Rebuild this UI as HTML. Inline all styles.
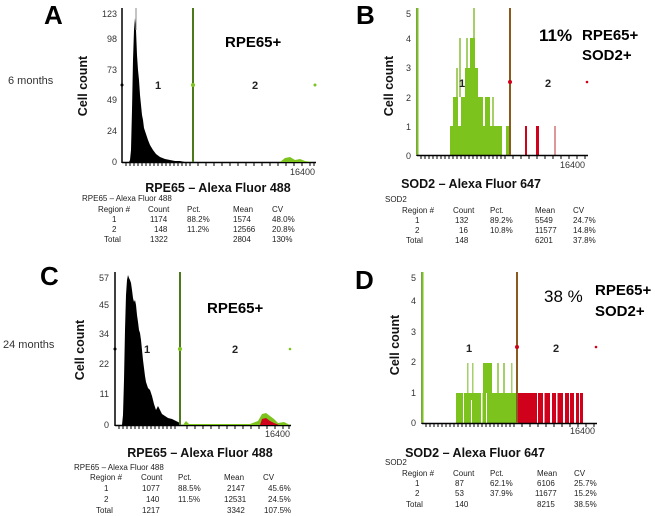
<!DOCTYPE html>
<html><head><meta charset="utf-8"><style>
html,body{margin:0;padding:0;background:#fff;}
svg{display:block;font-family:"Liberation Sans",Arial,sans-serif;}
.t{font-size:8px;fill:#222;}
.tk{font-size:9px;fill:#333;}
.ax{font-size:12.5px;font-weight:bold;fill:#111;}
.big{font-size:26px;font-weight:bold;fill:#000;}
.lab{font-size:15px;font-weight:bold;fill:#000;}
.rn{font-size:11px;font-weight:bold;fill:#222;}
</style></head><body>
<svg width="655" height="516" viewBox="0 0 655 516">
<rect width="655" height="516" fill="#fff"/>

<!-- ===== Panel A ===== -->
<text class="big" x="44" y="24">A</text>
<text x="8" y="84" font-size="11" fill="#333">6 months</text>
<text class="ax" transform="translate(87,86) rotate(-90)" text-anchor="middle">Cell count</text>
<g class="tk" text-anchor="end">
<text x="117" y="17">123</text><text x="117" y="42">98</text><text x="117" y="73">73</text>
<text x="117" y="103">49</text><text x="117" y="134">24</text><text x="117" y="165">0</text>
</g>
<polygon fill="#000" points="129,162 130,160 131,150 132,110 133,60 134,30 135,18 136,30 137,55 138,70 139,80 140,95 141,105 142,115 143,120 144,128 146,134 148,140 150,145 153,150 156,154 160,157 165,159 170,160 175,161 180,161 185,162"/>
<line x1="136" y1="8" x2="136" y2="30" stroke="#888" stroke-width="1"/>
<line x1="122" y1="8" x2="122" y2="163" stroke="#000" stroke-width="1.5"/>
<line x1="122" y1="162.5" x2="316" y2="162.5" stroke="#000" stroke-width="1.5"/>
<g stroke="#000" stroke-width="1"><path d="M126 163v3M130 163v3M134 163v3M138 163v3M142 163v3M146 163v3M150 163v3M154 163v3M158 163v3M162 163v3M166 163v3M170 163v3M174 163v3M178 163v3M182 163v3M186 163v3M190 163v3M198 163v3M206 163v3M214 163v3M222 163v3M230 163v3M238 163v3M246 163v3M254 163v3M262 163v3M270 163v3M278 163v3M286 163v3M294 163v3M302 163v3M310 163v3M314 163v3"/></g>
<polygon fill="#7dc31e" points="280,162 285,158 290,157 295,160 300,159 305,161 312,162"/>
<line x1="193" y1="8" x2="193" y2="162" stroke="#4a7a1c" stroke-width="2"/>
<circle cx="193" cy="85" r="2" fill="#7dc31e"/><circle cx="315" cy="85" r="1.5" fill="#7dc31e"/><circle cx="122" cy="85" r="1.5" fill="#000"/>
<text class="rn" x="155" y="89">1</text><text class="rn" x="252" y="89">2</text>
<text class="tk" x="290" y="175">16400</text>
<text class="lab" x="225" y="47">RPE65+</text>
<text class="ax" x="218" y="192" text-anchor="middle">RPE65 – Alexa Fluor 488</text>
<g class="t">
<text x="82" y="201">RPE65 – Alexa Fluor 488</text>
<text x="98" y="212">Region #</text><text x="148" y="212">Count</text><text x="187" y="212">Pct.</text><text x="233" y="212">Mean</text><text x="272" y="212">CV</text>
<text x="112" y="222">1</text><text x="150" y="222">1174</text><text x="187" y="222">88.2%</text><text x="233" y="222">1574</text><text x="272" y="222">48.0%</text>
<text x="112" y="232">2</text><text x="154" y="232">148</text><text x="187" y="232">11.2%</text><text x="233" y="232">12566</text><text x="272" y="232">20.8%</text>
<text x="104" y="242">Total</text><text x="150" y="242">1322</text><text x="233" y="242">2804</text><text x="272" y="242">130%</text>
</g>

<!-- ===== Panel B ===== -->
<text class="big" x="356" y="24">B</text>
<text class="ax" transform="translate(393,86) rotate(-90)" text-anchor="middle">Cell count</text>
<g class="tk" text-anchor="end">
<text x="411" y="17">5</text><text x="411" y="42">4</text><text x="411" y="71">3</text>
<text x="411" y="101">2</text><text x="411" y="130">1</text><text x="411" y="159">0</text>
</g>
<g fill="#7dc31e">
<rect x="450" y="126" width="52" height="29"/>
<rect x="453" y="97" width="5" height="29"/>
<rect x="456" y="68" width="2" height="29" fill="#a6cf6a"/>
<rect x="459" y="38" width="2" height="59" fill="#a6cf6a"/>
<rect x="461" y="97" width="4" height="29"/>
<rect x="465" y="68" width="5" height="58"/>
<rect x="466" y="38" width="2" height="30" fill="#a6cf6a"/>
<rect x="470" y="38" width="5" height="88"/>
<rect x="473" y="8" width="2" height="30" fill="#a6cf6a"/>
<rect x="475" y="68" width="3" height="58"/>
<rect x="478" y="97" width="5" height="29"/>
<rect x="485" y="97" width="5" height="29"/>
<rect x="492" y="97" width="2" height="29" fill="#a6cf6a"/>
<rect x="506" y="126" width="4" height="29"/>
</g>
<g fill="#d0021b">
<rect x="525" y="126" width="2" height="29"/><rect x="536" y="126" width="3" height="29"/><rect x="554" y="126" width="2" height="29" fill="#d99"/>
</g>
<line x1="417" y1="8" x2="417" y2="156" stroke="#000" stroke-width="1.5"/>
<line x1="417.5" y1="8" x2="417.5" y2="155" stroke="#7dc31e" stroke-width="2"/>
<line x1="417" y1="155.5" x2="588" y2="155.5" stroke="#000" stroke-width="1.5"/>
<g stroke="#000" stroke-width="1"><path d="M421 156v3M425 156v3M429 156v3M433 156v3M437 156v3M441 156v3M445 156v3M449 156v3M453 156v3M457 156v3M461 156v3M465 156v3M469 156v3M473 156v3M477 156v3M481 156v3M485 156v3M489 156v3M493 156v3M497 156v3M501 156v3M505 156v3M513 156v3M521 156v3M529 156v3M537 156v3M545 156v3M553 156v3M561 156v3M569 156v3M577 156v3M585 156v3"/></g>
<line x1="510" y1="8" x2="510" y2="155" stroke="#8b5a1e" stroke-width="2"/>
<circle cx="510" cy="82" r="2" fill="#d0021b"/><circle cx="587" cy="82" r="1.3" fill="#d0021b"/>
<text class="rn" x="459" y="87">1</text><text class="rn" x="545" y="87">2</text>
<text class="tk" x="560" y="168">16400</text>
<text x="539" y="41" font-size="17" font-weight="bold" fill="#000">11%</text>
<text class="lab" x="582" y="40">RPE65+</text>
<text class="lab" x="582" y="60">SOD2+</text>
<text class="ax" x="471" y="188" text-anchor="middle">SOD2 – Alexa Fluor 647</text>
<g class="t">
<text x="385" y="202">SOD2</text>
<text x="402" y="213">Region #</text><text x="453" y="213">Count</text><text x="490" y="213">Pct.</text><text x="535" y="213">Mean</text><text x="573" y="213">CV</text>
<text x="415" y="223">1</text><text x="455" y="223">132</text><text x="490" y="223">89.2%</text><text x="535" y="223">5549</text><text x="573" y="223">24.7%</text>
<text x="415" y="233">2</text><text x="459" y="233">16</text><text x="490" y="233">10.8%</text><text x="535" y="233">11577</text><text x="573" y="233">14.8%</text>
<text x="406" y="243">Total</text><text x="455" y="243">148</text><text x="535" y="243">6201</text><text x="573" y="243">37.8%</text>
</g>

<!-- ===== Panel C ===== -->
<text class="big" x="40" y="285">C</text>
<text x="3" y="348" font-size="11" fill="#333">24 months</text>
<text class="ax" transform="translate(84,350) rotate(-90)" text-anchor="middle">Cell count</text>
<g class="tk" text-anchor="end">
<text x="109" y="281">57</text><text x="109" y="308">45</text><text x="109" y="337">34</text>
<text x="109" y="367">22</text><text x="109" y="397">11</text><text x="109" y="428">0</text>
</g>
<polygon fill="#000" points="122,425 123,415 124,380 125,330 126,295 127,280 128,275 129,278 130,280 131,283 132,290 133,298 134,302 135,300 136,305 137,315 138,322 139,330 140,333 141,340 142,350 143,360 144,368 145,376 146,382 148,388 150,390 152,396 154,404 156,410 158,406 160,410 162,414 165,416 168,418 172,419 176,421 180,423 180,425"/>
<line x1="115" y1="272" x2="115" y2="426" stroke="#000" stroke-width="1.5"/>
<line x1="115" y1="425.5" x2="291" y2="425.5" stroke="#000" stroke-width="1.5"/>
<g stroke="#000" stroke-width="1"><path d="M119 426v3M123 426v3M127 426v3M131 426v3M135 426v3M139 426v3M143 426v3M147 426v3M151 426v3M155 426v3M159 426v3M163 426v3M167 426v3M171 426v3M175 426v3M187 426v3M195 426v3M203 426v3M211 426v3M219 426v3M227 426v3M235 426v3M243 426v3M251 426v3M259 426v3M267 426v3M275 426v3M283 426v3M289 426v3"/></g>
<polygon fill="#7dc31e" points="183,425 186,421 189,424 215,424 250,424 258,421 262,414 266,413 270,416 274,419 278,423 284,422 290,425"/>
<polygon fill="#d0021b" points="260,425 262,419 266,418 270,421 274,423 279,425"/>
<line x1="180" y1="272" x2="180" y2="425" stroke="#4a7a1c" stroke-width="2"/>
<circle cx="180" cy="349" r="2" fill="#7dc31e"/><circle cx="290" cy="349" r="1.3" fill="#7dc31e"/><circle cx="115" cy="349" r="1.5" fill="#000"/>
<text class="rn" x="144" y="353">1</text><text class="rn" x="232" y="353">2</text>
<text class="tk" x="265" y="437">16400</text>
<text class="lab" x="207" y="313">RPE65+</text>
<text class="ax" x="200" y="457" text-anchor="middle">RPE65 – Alexa Fluor 488</text>
<g class="t">
<text x="74" y="470">RPE65 – Alexa Fluor 488</text>
<text x="90" y="480">Region #</text><text x="141" y="480">Count</text><text x="178" y="480">Pct.</text><text x="224" y="480">Mean</text><text x="263" y="480">CV</text>
<text x="104" y="491">1</text><text x="142" y="491">1077</text><text x="178" y="491">88.5%</text><text x="227" y="491">2147</text><text x="268" y="491">45.6%</text>
<text x="104" y="502">2</text><text x="146" y="502">140</text><text x="178" y="502">11.5%</text><text x="224" y="502">12531</text><text x="268" y="502">24.5%</text>
<text x="96" y="513">Total</text><text x="142" y="513">1217</text><text x="227" y="513">3342</text><text x="264" y="513">107.5%</text>
</g>

<!-- ===== Panel D ===== -->
<text class="big" x="355" y="289">D</text>
<text class="ax" transform="translate(399,345) rotate(-90)" text-anchor="middle">Cell count</text>
<g class="tk" text-anchor="end">
<text x="416" y="281">5</text><text x="416" y="304">4</text><text x="416" y="335">3</text>
<text x="416" y="365">2</text><text x="416" y="396">1</text><text x="416" y="426">0</text>
</g>
<g fill="#7dc31e">
<rect x="456" y="393" width="61" height="30"/>
<rect x="467" y="363" width="1.5" height="30" fill="#a6cf6a"/>
<rect x="472" y="363" width="1.5" height="30" fill="#a6cf6a"/>
<rect x="483" y="363" width="9" height="30"/>
<rect x="497" y="363" width="2" height="30" fill="#a6cf6a"/>
<rect x="503" y="363" width="2" height="30" fill="#a6cf6a"/>
<rect x="511" y="363" width="1.5" height="30" fill="#a6cf6a"/>
</g>
<g fill="#fff"><rect x="463" y="393" width="1" height="30"/><rect x="471" y="400" width="1" height="23"/><rect x="481" y="393" width="1.5" height="30"/><rect x="486" y="393" width="1" height="30"/></g>
<rect x="517" y="393" width="66" height="30" fill="#d0021b"/>
<g fill="#fff"><rect x="537" y="393" width="1" height="30"/><rect x="543" y="393" width="1.5" height="30"/><rect x="550" y="393" width="2" height="30"/><rect x="556" y="393" width="1.5" height="30"/><rect x="563" y="393" width="2" height="30"/><rect x="569" y="393" width="1" height="30"/><rect x="574" y="393" width="2" height="30"/><rect x="579" y="393" width="1" height="30"/></g>
<line x1="422" y1="272" x2="422" y2="424" stroke="#000" stroke-width="1.5"/>
<line x1="422.5" y1="272" x2="422.5" y2="423" stroke="#7dc31e" stroke-width="2"/>
<line x1="422" y1="423.5" x2="597" y2="423.5" stroke="#000" stroke-width="1.5"/>
<g stroke="#000" stroke-width="1"><path d="M426 424v3M430 424v3M434 424v3M438 424v3M442 424v3M446 424v3M450 424v3M454 424v3M458 424v3M462 424v3M466 424v3M470 424v3M474 424v3M478 424v3M482 424v3M486 424v3M490 424v3M494 424v3M498 424v3M502 424v3M506 424v3M510 424v3M514 424v3M522 424v3M530 424v3M538 424v3M546 424v3M554 424v3M562 424v3M570 424v3M578 424v3M586 424v3M594 424v3"/></g>
<line x1="517" y1="272" x2="517" y2="423" stroke="#8b5a1e" stroke-width="2"/>
<circle cx="517" cy="347" r="2" fill="#d0021b"/><circle cx="596" cy="347" r="1.3" fill="#d0021b"/>
<text class="rn" x="466" y="352">1</text><text class="rn" x="553" y="352">2</text>
<text class="tk" x="570" y="434">16400</text>
<text x="544" y="302" font-size="17" fill="#000">38 %</text>
<text class="lab" x="595" y="295">RPE65+</text>
<text class="lab" x="595" y="316">SOD2+</text>
<text class="ax" x="475" y="457" text-anchor="middle">SOD2 – Alexa Fluor 647</text>
<g class="t">
<text x="385" y="465">SOD2</text>
<text x="402" y="476">Region #</text><text x="453" y="476">Count</text><text x="490" y="476">Pct.</text><text x="537" y="476">Mean</text><text x="574" y="476">CV</text>
<text x="415" y="486">1</text><text x="455" y="486">87</text><text x="490" y="486">62.1%</text><text x="537" y="486">6106</text><text x="574" y="486">25.7%</text>
<text x="415" y="496">2</text><text x="455" y="496">53</text><text x="490" y="496">37.9%</text><text x="535" y="496">11677</text><text x="574" y="496">15.2%</text>
<text x="406" y="507">Total</text><text x="455" y="507">140</text><text x="537" y="507">8215</text><text x="574" y="507">38.5%</text>
</g>
</svg>
</body></html>
